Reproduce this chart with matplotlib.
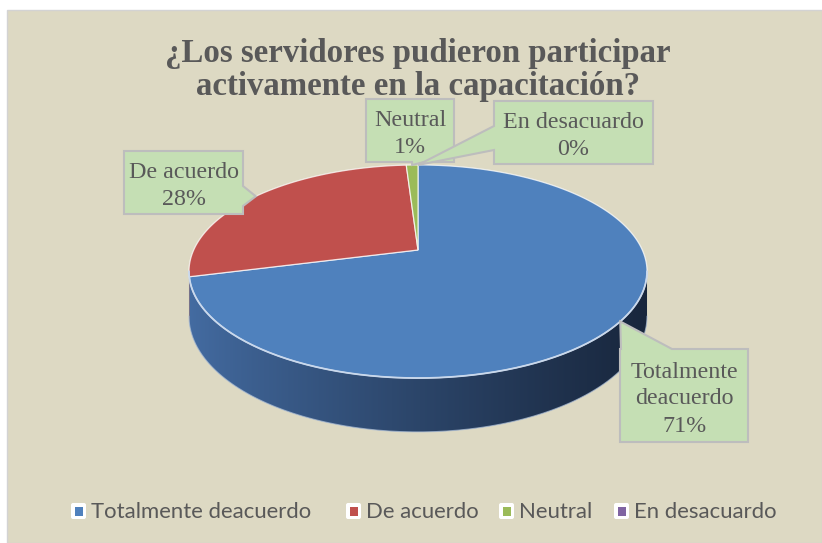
import numpy as np
import matplotlib.pyplot as plt
from matplotlib.patches import Polygon, Rectangle, FancyBboxPatch

# Chart data
categories = ["Totalmente deacuerdo", "De acuerdo", "Neutral", "En desacuardo"]
values = [71, 28, 1, 0]
title_lines = ["¿Los servidores pudieron participar", "activamente en la capacitación?"]
label_lines = [["Totalmente", "deacuerdo", "71%"], ["De acuerdo", "28%"], ["Neutral", "1%"], ["En desacuardo", "0%"]]

colors = ["#4F81BD", "#C0504D", "#9BBB59", "#8064A2"]
side_light = [(68, 108, 162), (150, 58, 55), (130, 160, 75), (110, 85, 140)]
side_dark = [(24, 38, 60), (100, 36, 34), (75, 95, 40), (60, 45, 80)]

BG = "#DDD9C3"
BOX = "#C5DFB4"
BOX_EDGE = "#BDBDBD"
TXT = "#595959"

# label boxes (x0, y0, x1, y1) in pixels, side of the pointer, pointer base
boxes = [(620, 349, 748, 442), (124, 151, 243, 214), (366, 99, 454, 162), (494, 101, 653, 164)]
pointer_side = ["top", "right", "bottom", "left"]
pointer_base = [(621, 672), (186, 206), (412, 424), (126, 150)]

# legend layout: marker left edge for each entry
legend_x = [70, 345, 498, 613]
legend_y = 511

# projection of the tilted disc
CX, CY = 418, 250
K, P, Q = 224.3, 102.2, 0.2019
H = 43


def proj(theta, drop=0.0):
    t = np.radians(theta)
    u, v = np.sin(t), np.cos(t)
    w = 1 + Q * v
    return CX + K * u / w, CY - P * v / w + drop / w


def callout(box, side, base, tip):
    x0, y0, x1, y1 = box
    a, b = base
    if side == "top":
        pts = [(x0, y0), (a, y0), tip, (b, y0), (x1, y0), (x1, y1), (x0, y1)]
    elif side == "right":
        pts = [(x0, y0), (x1, y0), (x1, a), tip, (x1, b), (x1, y1), (x0, y1)]
    elif side == "bottom":
        pts = [(x0, y0), (x1, y0), (x1, y1), (b, y1), tip, (a, y1), (x0, y1)]
    else:
        pts = [(x0, y0), (x1, y0), (x1, y1), (x0, y1), (x0, b), tip, (x0, a)]
    return pts


fig = plt.figure(figsize=(8.22, 5.43), dpi=100)
ax = fig.add_axes([0, 0, 1, 1])
ax.axis("off")

ax.add_patch(Rectangle((7, 10), 815, 533, facecolor=BG, edgecolor="#D3D3D3", lw=1, zorder=0))

total = sum(values)
angles = np.cumsum([0] + [v / total * 360 for v in values])
th_r = np.degrees(np.arccos(-Q))
th_l = 360 - th_r
x_left, x_right = CX - 230, CX + 230

# side of the pie (front part only), shaded left to right
for i in range(len(values)):
    s, e = max(angles[i], th_r), min(angles[i + 1], th_l)
    if e <= s:
        continue
    ts = np.linspace(s, e, 200)
    top = [proj(t) for t in ts]
    bot = [proj(t, H) for t in ts[::-1]]
    side = Polygon(top + bot, closed=True, facecolor="none", edgecolor="none")
    ax.add_patch(side)
    f = np.linspace(0, 1, 256) ** 0.85
    grad = (np.outer(1 - f, side_light[i]) + np.outer(f, side_dark[i])) / 255
    im = ax.imshow(grad[np.newaxis, :, :], extent=(x_left, x_right, 450, 240),
                   aspect="auto", interpolation="bilinear", zorder=2)
    im.set_clip_path(side)

# bottom rim
tt = np.linspace(th_r, th_l, 200)
bx, by = zip(*[proj(t, H) for t in tt])
ax.plot(bx, by, color="#A9BCD6", lw=0.8, alpha=0.7, zorder=3)

# top faces
for i in range(len(values)):
    if values[i] == 0:
        continue
    ts = np.linspace(angles[i], angles[i + 1], max(int(angles[i + 1] - angles[i]) * 2, 4))
    pts = [(CX, CY)] + [proj(t) for t in ts]
    ax.add_patch(Polygon(pts, closed=True, facecolor=colors[i], edgecolor=(1, 1, 1, 0.75), lw=0.9, zorder=4))

tx, ty = zip(*[proj(t) for t in tt])
ax.plot(tx, ty, color="#C9D8EC", lw=1.3, zorder=5)

# data labels with callouts
for i in range(len(values)):
    if values[i] > 0:
        mid = (angles[i] + angles[i + 1]) / 2
    else:
        mid = angles[i]
    tip = proj(mid)
    pts = callout(boxes[i], pointer_side[i], pointer_base[i], tip)
    ax.add_patch(Polygon(pts, closed=True, facecolor=BOX, edgecolor=BOX_EDGE, lw=1.5, zorder=6))
    x0, y0, x1, y1 = boxes[i]
    cx, cy = (x0 + x1) / 2, (y0 + y1) / 2
    n = len(label_lines[i])
    for j, line in enumerate(label_lines[i]):
        ax.text(cx, cy + (j - (n - 1) / 2) * 27 + 9, line, ha="center", va="baseline",
                fontsize=17.3, family="Liberation Serif", color=TXT, zorder=7)

# title
ax.text(418, 62, title_lines[0], ha="center", va="baseline", fontsize=23.7,
        family="Liberation Serif", weight="bold", color=TXT)
ax.text(418, 95, title_lines[1], ha="center", va="baseline", fontsize=23.7,
        family="Liberation Serif", weight="bold", color=TXT)

# legend
for i, name in enumerate(categories):
    lx = legend_x[i]
    ax.add_patch(FancyBboxPatch((lx + 1, legend_y - 8), 15, 16, boxstyle="round,pad=0,rounding_size=2",
                                facecolor="white", edgecolor="none", zorder=6))
    ax.add_patch(Rectangle((lx + 4.5, legend_y - 4.5), 8, 9, facecolor=colors[i], edgecolor="none", zorder=7))
    ax.text(lx + 21, legend_y + 7, name, ha="left", va="baseline", fontsize=15.9,
            family="Lato", color=TXT)

ax.set_xlim(0, 822)
ax.set_ylim(543, 0)

fig.savefig("out.png", dpi=100)
